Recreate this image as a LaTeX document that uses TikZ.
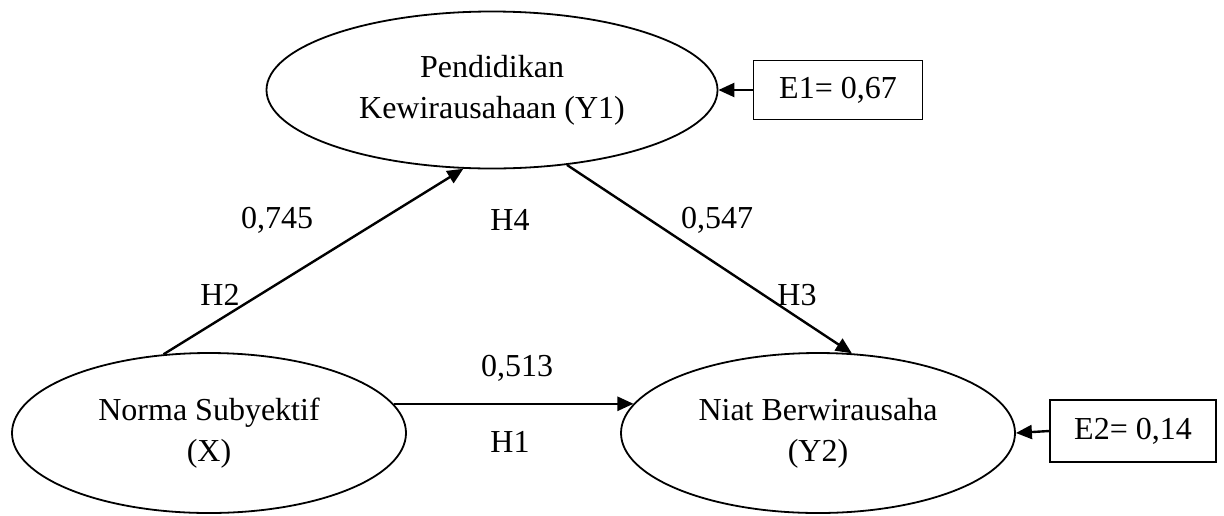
\documentclass[tikz,border=0pt]{standalone}
\usepackage{fontspec}
\setmainfont{Liberation Serif}
\usetikzlibrary{arrows.meta}
\usetikzlibrary{shapes.geometric}

\begin{document}
\begin{tikzpicture}[x=0.5pt,y=-0.5pt,
  font=\fontsize{16}{20.5}\selectfont,
  latent/.style={draw,ellipse,line width=0.9pt,align=center,inner sep=0pt},
  errbox/.style={draw,rectangle,line width=0.9pt,inner sep=0pt},
  path/.style={-{Triangle[length=8pt,width=7pt]},line width=1.2pt}]
\useasboundingbox (0,0) rectangle (1224,515);

% latent variables
\node[latent,minimum width=225.5pt,minimum height=78.5pt] (y1) at (492,90) {Pendidikan\\Kewirausahaan (Y1)};
\node[latent,minimum width=197pt,minimum height=80pt] (x) at (209,433) {Norma Subyektif\\(X)};
\node[latent,minimum width=197pt,minimum height=80pt] (y2) at (818,433) {Niat Berwirausaha\\(Y2)};

% error terms
\node[errbox,minimum width=84.5pt,minimum height=29.5pt] (e1) at (838,90) {E1= 0,67};
\node[errbox,minimum width=83pt,minimum height=31pt] (e2) at (1133,431) {E2= 0,14};

% paths
\draw[path] (x.120) -- (y1.250);
\draw[path] (y1.315) -- (y2.67);
\draw[path] (x.9) -- (y2.171);
\draw[path] (e1.west) -- (y1.east);
\draw[path] (e2.west) -- (y2.east);

% coefficients
\node (c2) at (277,220) {0,745};
\node (h2) at (220,295) {H2};
\node (h4) at (510,220) {H4};
\node (c3) at (717,220) {0,547};
\node (h3) at (797,295) {H3};
\node (c1) at (517,368) {0,513};
\node (h1) at (510,442) {H1};
\end{tikzpicture}
\end{document}
